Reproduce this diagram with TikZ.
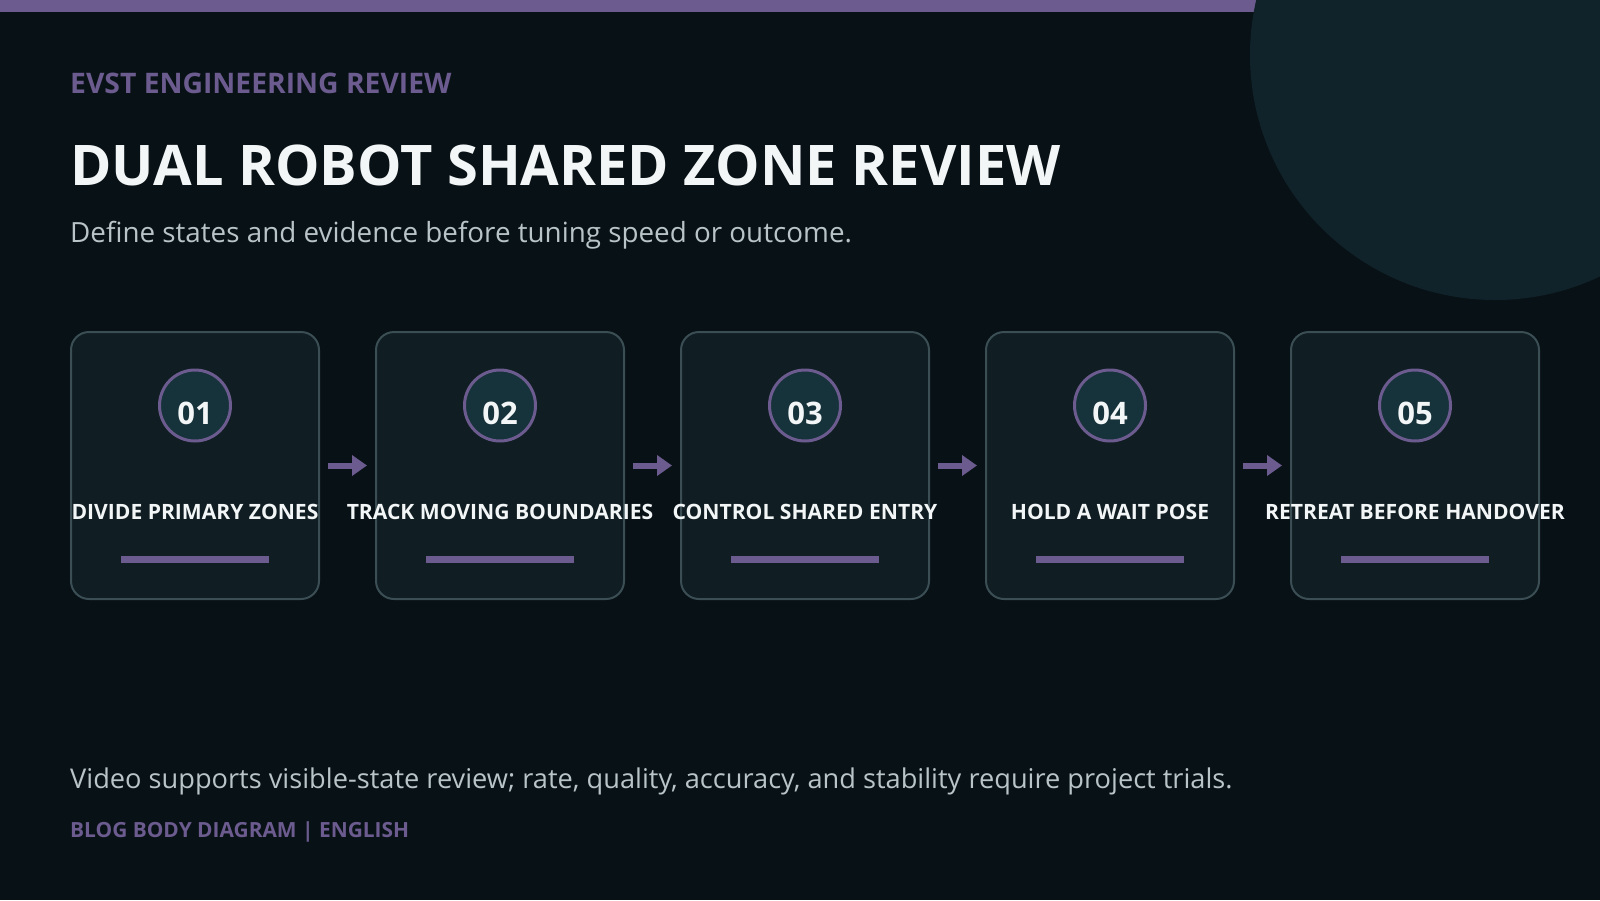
\documentclass[tikz,border=0pt]{standalone}
\usepackage{fontspec}
\setmainfont{Open Sans}
\usepackage{xcolor}
\usetikzlibrary{arrows.meta}

\definecolor{pagebg}{HTML}{081116}
\definecolor{decofill}{HTML}{11232A}
\definecolor{cardfill}{HTML}{101D22}
\definecolor{cardline}{HTML}{3A4E54}
\definecolor{ringfill}{HTML}{16323A}
\definecolor{accent}{HTML}{6B5B8E}
\definecolor{titlewhite}{HTML}{F3F6F6}
\definecolor{softgrey}{HTML}{B8C4C8}

\tikzset{
	card/.style={draw=cardline, fill=cardfill, line width=2pt, rounded corners=18pt, minimum width=248pt, minimum height=267pt, inner sep=0pt},
	numring/.style={circle, draw=accent, fill=ringfill, line width=3pt, minimum size=71pt, inner sep=0pt, text=titlewhite, font=\bfseries\fontsize{31}{31}\selectfont, text height=38pt, text depth=0pt},
	steplabel/.style={text=titlewhite, inner sep=0pt, font=\bfseries\fontsize{21.1}{21.1}\selectfont},
	flowarrow/.style={draw=accent, line width=6pt, -{Triangle[length=15pt, width=20pt]}},
	headtext/.style={anchor=base west, inner sep=0pt}
}

\begin{document}
\begin{tikzpicture}[x=1pt, y=-1pt]
	\useasboundingbox (0, 0) rectangle (1600, 900);
	\fill[pagebg] (0, 0) rectangle (1600, 900);
	\fill[accent] (0, 0) rectangle (1600, 12);
	\fill[decofill] (1495, 55) circle (245pt);

	% Heading texts
	\node[headtext, text=accent, font=\bfseries\fontsize{28.3}{28.3}\selectfont] (kicker) at (70, 93) {EVST ENGINEERING REVIEW};
	\node[headtext, text=titlewhite, font=\bfseries\fontsize{56}{56}\selectfont] (title) at (70, 185) {DUAL ROBOT SHARED ZONE REVIEW};
	\node[headtext, text=softgrey, font=\fontsize{27.8}{27.8}\selectfont] (subtitle) at (70, 242) {Define states and evidence before tuning speed or outcome.};

	\begin{scope}[xshift=0pt]
		\node[card] (card1) at (195, 465.5) {};
		\node[numring] (num1) at (195, 405.5) {01};
		\node[steplabel] (label1) at (195, 512) {DIVIDE PRIMARY ZONES};
		\fill[accent] (121, 556) rectangle (269, 563);
	\end{scope}

	\begin{scope}[xshift=305pt]
		\node[card] (card2) at (195, 465.5) {};
		\node[numring] (num2) at (195, 405.5) {02};
		\node[steplabel] (label2) at (195, 512) {TRACK MOVING BOUNDARIES};
		\fill[accent] (121, 556) rectangle (269, 563);
	\end{scope}

	\begin{scope}[xshift=610pt]
		\node[card] (card3) at (195, 465.5) {};
		\node[numring] (num3) at (195, 405.5) {03};
		\node[steplabel] (label3) at (195, 512) {CONTROL SHARED ENTRY};
		\fill[accent] (121, 556) rectangle (269, 563);
	\end{scope}

	\begin{scope}[xshift=915pt]
		\node[card] (card4) at (195, 465.5) {};
		\node[numring] (num4) at (195, 405.5) {04};
		\node[steplabel] (label4) at (195, 512) {HOLD A WAIT POSE};
		\fill[accent] (121, 556) rectangle (269, 563);
	\end{scope}

	\begin{scope}[xshift=1220pt]
		\node[card] (card5) at (195, 465.5) {};
		\node[numring] (num5) at (195, 405.5) {05};
		\node[steplabel] (label5) at (195, 512) {RETREAT BEFORE HANDOVER};
		\fill[accent] (121, 556) rectangle (269, 563);
	\end{scope}

	% Draw the arrows between the cards
	\draw[flowarrow] ([xshift=8pt]card1.east) -- ([xshift=-8pt]card2.west);
	\draw[flowarrow] ([xshift=8pt]card2.east) -- ([xshift=-8pt]card3.west);
	\draw[flowarrow] ([xshift=8pt]card3.east) -- ([xshift=-8pt]card4.west);
	\draw[flowarrow] ([xshift=8pt]card4.east) -- ([xshift=-8pt]card5.west);

	% Footer texts
	\node[headtext, text=softgrey, font=\fontsize{27.2}{27.2}\selectfont] (note) at (70, 788) {Video supports visible-state review; rate, quality, accuracy, and stability require project trials.};
	\node[headtext, text=accent, font=\bfseries\fontsize{20.9}{20.9}\selectfont] (footer) at (70, 837) {BLOG BODY DIAGRAM | ENGLISH};
\end{tikzpicture}
\end{document}
